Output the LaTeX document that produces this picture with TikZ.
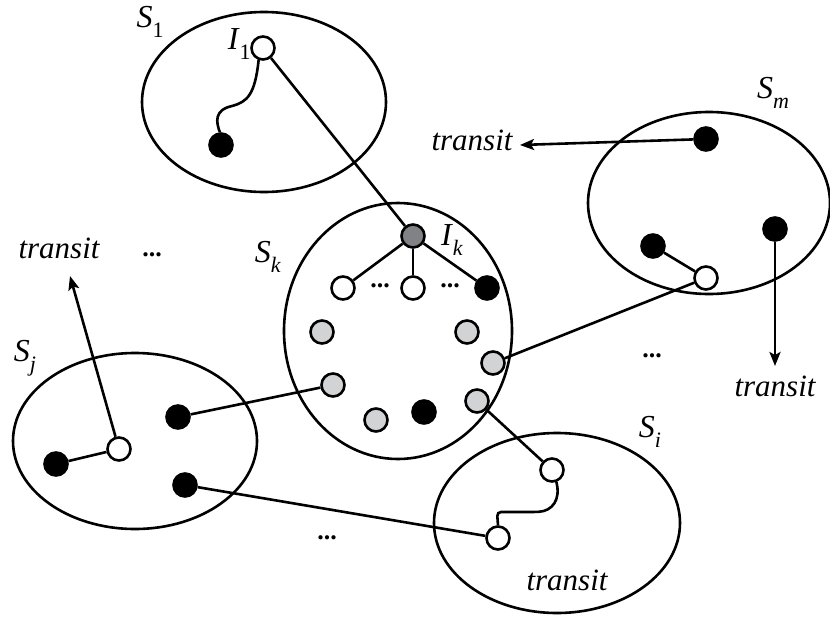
\documentclass[tikz,border=0pt]{standalone}
\usepackage{fontspec}
\setmainfont{Liberation Serif}
\usetikzlibrary{arrows.meta}
\newcommand\setlab[2]{\textit{#1}\raisebox{-0.32em}{\fontsize{22}{22}\selectfont #2}}
\definecolor{lightgr}{HTML}{D1D3D4}
\definecolor{darkgr}{HTML}{808285}
\begin{document}
\begin{tikzpicture}[x=1pt,y=-1pt,line width=2.6pt,
  pt/.style={circle,draw,inner sep=0pt,minimum size=23pt,line width=2.6pt},
  wn/.style={pt,fill=white},
  bn/.style={pt,fill=black},
  gn/.style={pt,fill=lightgr},
  dn/.style={pt,fill=darkgr},
  txt/.style={font=\fontsize{31}{31}\selectfont\itshape,inner sep=0pt},
  lab/.style={font=\fontsize{32}{32}\selectfont,inner sep=0pt},
  dots/.style={font=\fontsize{26}{26}\selectfont\bfseries,inner sep=0pt},
  arr/.style={-{Stealth[length=14pt,width=11pt,inset=3pt]}}]
\useasboundingbox (0,0) rectangle (830,616);

% sets
\draw (264,102) ellipse [x radius=122,y radius=90];
\draw (398,331) ellipse [x radius=114,y radius=128];
\draw (709,203) ellipse [x radius=121,y radius=91];
\draw (135,441) ellipse [x radius=122,y radius=88];
\draw (557,523) ellipse [x radius=123,y radius=90];

% set labels
\node[lab] (ls1) at (150,22) {\setlab{S}{1}};
\node[lab] (lsk) at (268,257) {\setlab{S}{\textit{k}}};
\node[lab] (lsm) at (773,93) {\setlab{S}{\textit{m}}};
\node[lab] (lsj) at (25,358) {\setlab{S}{\textit{j}}};
\node[lab] (lsi) at (650,432) {\setlab{S}{\textit{i}}};

% S1
\node[wn] (i1) at (263,48) {};
\node[bn] (b1) at (221,145) {};
\node[lab,anchor=east] (li1) at (252,44) {\setlab{I}{1}};

% Sk
\node[dn] (ik) at (413,236) {};
\node[lab] (lik) at (452,240) {\setlab{I}{\textit{k}}};
\node[wn] (k1) at (343,288) {};
\node[wn] (k2) at (413,288) {};
\node[bn] (k3) at (487,288) {};
\node[dots] (kd1) at (380,286) {...};
\node[dots] (kd2) at (450,286) {...};
\node[gn] (g1) at (322,332) {};
\node[gn] (g2) at (467,332) {};
\node[gn] (g3) at (493,363) {};
\node[gn] (g4) at (333,385) {};
\node[gn] (g5) at (477,401) {};
\node[gn] (g6) at (376,420) {};
\node[bn] (k4) at (424,412) {};

% Sm
\node[bn] (m1) at (706,139) {};
\node[bn] (m2) at (653,246) {};
\node[wn] (m3) at (706,278) {};
\node[bn] (m4) at (775,229) {};

% Sj
\node[bn] (j1) at (178,417) {};
\node[wn] (j2) at (119,449) {};
\node[bn] (j3) at (56,464) {};
\node[bn] (j4) at (185,485) {};

% Si
\node[wn] (si1) at (552,470) {};
\node[wn] (si2) at (498,538) {};

% free labels
\node[txt] (t1) at (472,140) {transit};
\node[txt] (t2) at (59,248) {transit};
\node[txt] (t3) at (775,386) {transit};
\node[txt] (t4) at (567,580) {transit};
\node[dots] (d1) at (152,255) {...};
\node[dots] (d2) at (652,356) {...};
\node[dots] (d3) at (327,538) {...};

\coordinate (a1) at (520,145);
\coordinate (a2) at (70,276);
\coordinate (a3) at (775,366);

% connectors
\draw (i1.250) .. controls (255,95) and (247,102) .. (232,106)
      .. controls (214,110) and (216,122) .. (b1.95);
\draw (i1) -- (ik);
\draw (ik) -- (k1);
\draw (ik) -- (k2);
\draw (ik) -- (k3);
\draw[arr] (m1) -- (a1);
\draw (m2) -- (m3);
\draw (m3) -- (g3);
\draw[arr] (m4) -- (a3);
\draw[arr] (j2) -- (a2);
\draw (j3) -- (j2);
\draw (j1) -- (g4);
\draw (j4) -- (si2);
\draw (g5) -- (si1);
\draw[rounded corners=4pt] (si1.-70) .. controls (561,500) and (552,511) .. (535,512)
      -- (497,512) -- (si2.north);
\end{tikzpicture}
\end{document}
